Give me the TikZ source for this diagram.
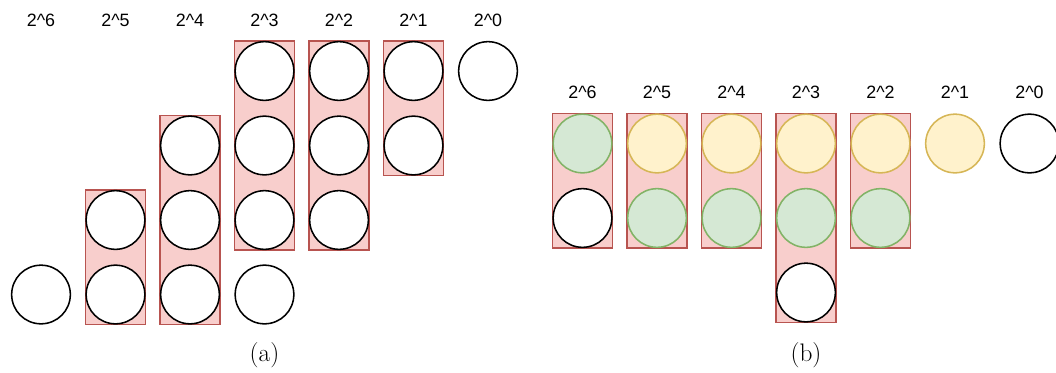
\documentclass[tikz,border=0pt]{standalone}
\usepackage{fontspec}
\newfontfamily\lab{Liberation Sans}
\definecolor{redfill}{HTML}{F8CECC}
\definecolor{redline}{HTML}{B85450}
\definecolor{greenfill}{HTML}{D5E8D4}
\definecolor{greenline}{HTML}{82B366}
\definecolor{yelfill}{HTML}{FFF2CC}
\definecolor{yelline}{HTML}{D6B656}
\begin{document}
\begin{tikzpicture}[x=0.75pt,y=-0.75pt,
  ball/.style={circle,draw=black,line width=1.15pt,fill=white,minimum size=44pt,inner sep=0pt},
  gball/.style={ball,draw=greenline,fill=greenfill},
  yball/.style={ball,draw=yelline,fill=yelfill},
  grp/.style={draw=redline,fill=redfill,line width=0.95pt},
  lbl/.style={font=\lab\fontsize{13.4}{15}\selectfont,inner sep=0pt},
  captxt/.style={font=\fontsize{19}{22}\selectfont,inner sep=0pt}]
\useasboundingbox (0,0) rectangle (1056,372);
% ---------- panel (a) ----------
\draw[grp] (85.5,190) rectangle (145.5,324.5);
\draw[grp] (160,115.5) rectangle (220,324.5);
\draw[grp] (234.5,41) rectangle (294.5,250);
\draw[grp] (309,41) rectangle (369,250);
\draw[grp] (383.5,41) rectangle (443.5,175.5);
\node[lbl] (la6) at (41,20) {2\^{}6};
\node[lbl] (la5) at (115.5,20) {2\^{}5};
\node[lbl] (la4) at (190,20) {2\^{}4};
\node[lbl] (la3) at (264.5,20) {2\^{}3};
\node[lbl] (la2) at (339,20) {2\^{}2};
\node[lbl] (la1) at (413.5,20) {2\^{}1};
\node[lbl] (la0) at (488,20) {2\^{}0};
\node[ball] (a64) at (41,294.5) {};
\node[ball] (a53) at (115.5,220) {};
\node[ball] (a54) at (115.5,294.5) {};
\node[ball] (a42) at (190,145.5) {};
\node[ball] (a43) at (190,220) {};
\node[ball] (a44) at (190,294.5) {};
\node[ball] (a31) at (264.5,71) {};
\node[ball] (a32) at (264.5,145.5) {};
\node[ball] (a33) at (264.5,220) {};
\node[ball] (a34) at (264.5,294.5) {};
\node[ball] (a21) at (339,71) {};
\node[ball] (a22) at (339,145.5) {};
\node[ball] (a23) at (339,220) {};
\node[ball] (a11) at (413.5,71) {};
\node[ball] (a12) at (413.5,145.5) {};
\node[ball] (a01) at (488,71) {};
\node[captxt] (capa) at (264.5,355) {(a)};
% ---------- panel (b) ----------
\draw[grp] (552.5,113.5) rectangle (612.5,248);
\draw[grp] (627,113.5) rectangle (687,248);
\draw[grp] (701.5,113.5) rectangle (761.5,248);
\draw[grp] (776,113.5) rectangle (836,322.5);
\draw[grp] (850.5,113.5) rectangle (910.5,248);
\node[lbl] (lb6) at (582.5,92) {2\^{}6};
\node[lbl] (lb5) at (657,92) {2\^{}5};
\node[lbl] (lb4) at (731.5,92) {2\^{}4};
\node[lbl] (lb3) at (806,92) {2\^{}3};
\node[lbl] (lb2) at (880.5,92) {2\^{}2};
\node[lbl] (lb1) at (955,92) {2\^{}1};
\node[lbl] (lb0) at (1029.5,92) {2\^{}0};
\node[gball] (b61) at (582.5,143.5) {};
\node[ball]  (b62) at (582.5,218) {};
\node[yball] (b51) at (657,143.5) {};
\node[gball] (b52) at (657,218) {};
\node[yball] (b41) at (731.5,143.5) {};
\node[gball] (b42) at (731.5,218) {};
\node[yball] (b31) at (806,143.5) {};
\node[gball] (b32) at (806,218) {};
\node[ball]  (b33) at (806,292.5) {};
\node[yball] (b21) at (880.5,143.5) {};
\node[gball] (b22) at (880.5,218) {};
\node[yball] (b11) at (955,143.5) {};
\node[ball]  (b01) at (1029.5,143.5) {};
\node[captxt] (capb) at (806,355) {(b)};
\end{tikzpicture}
\end{document}
